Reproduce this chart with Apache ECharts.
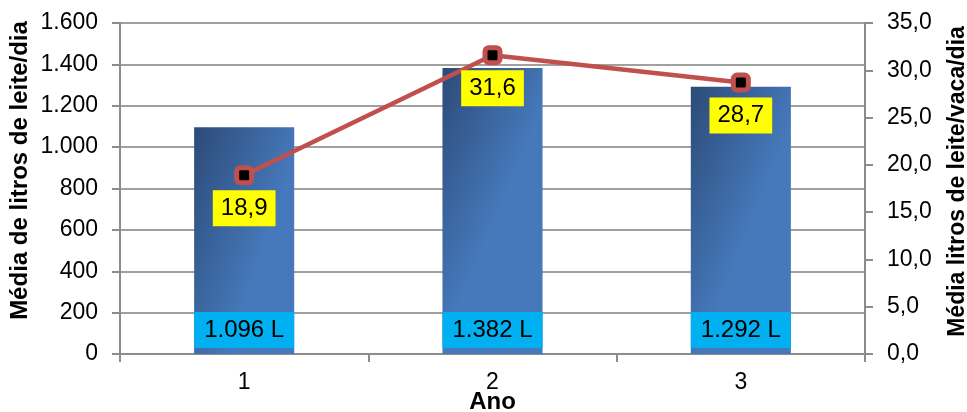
<!DOCTYPE html>
<html>
<head>
<meta charset="utf-8">
<script src="https://cdn.jsdelivr.net/npm/echarts@6/dist/echarts.min.js"></script>
<style>
  html, body { margin: 0; padding: 0; background: #fff; }
  #chart { width: 967px; height: 412px; }
</style>
</head>
<body>
<div id="chart"></div>
<script>
// Data
const anos = ['1', '2', '3'];
const litrosDia = [1096, 1382, 1292];
const litrosVacaDia = [18.9, 31.6, 28.7];

const fmtMil = v => String(v).replace(/\B(?=(\d{3})+(?!\d))/g, '.');
const fmtDec = v => v.toFixed(1).replace('.', ',');

const font = 'Liberation Sans, Arial, sans-serif';
const axisColor = '#8c8c8c';

var myChart = echarts.init(document.getElementById('chart'));
var option = {
    animation: false,
    textStyle: { fontFamily: font },
    grid: {
        left: 120, right: 102, top: 23, bottom: 58,
        containLabel: false,
        outerBoundsMode: 'none'
    },
    xAxis: {
        type: 'category',
        data: anos,
        name: 'Ano',
        nameLocation: 'middle',
        nameGap: 36,
        nameMoveOverlap: false,
        nameTextStyle: { fontSize: 24, fontWeight: 'bold', color: '#000' },
        axisLine: { lineStyle: { color: axisColor, width: 2 } },
        axisTick: { show: true, length: 8, lineStyle: { color: axisColor, width: 2 } },
        axisLabel: { fontSize: 23, color: '#000', margin: 17 }
    },
    yAxis: [
        {
            type: 'value',
            min: 0, max: 1600, interval: 200,
            name: 'Média de litros de leite/dia',
            nameLocation: 'middle',
            nameGap: 88,
            nameMoveOverlap: false,
            // shifted a bit above the plot centre, as in the original
            nameTextStyle: { fontSize: 24, fontWeight: 'bold', color: '#000', padding: [0, 0, 0, 36] },
            axisLine: { show: true, lineStyle: { color: axisColor, width: 2 } },
            axisTick: { show: true, length: 8, lineStyle: { color: axisColor, width: 2 } },
            axisLabel: { fontSize: 23, color: '#000', margin: 22, formatter: v => fmtMil(v) },
            splitLine: { lineStyle: { color: '#a0a0a0', width: 2 } }
        },
        {
            type: 'value',
            min: 0, max: 35, interval: 5,
            name: 'Média litros de leite/vaca/dia',
            nameLocation: 'middle',
            nameGap: 81,
            nameRotate: 90,
            nameMoveOverlap: false,
            nameTextStyle: { fontSize: 23, fontWeight: 'bold', color: '#000', padding: [0, 0, 0, 14] },
            axisLine: { show: true, lineStyle: { color: axisColor, width: 2 } },
            axisTick: { show: true, length: 8, lineStyle: { color: axisColor, width: 2 } },
            axisLabel: { fontSize: 23, color: '#000', margin: 22, formatter: v => fmtDec(v) },
            splitLine: { show: false }
        }
    ],
    series: [
        {
            type: 'bar',
            data: litrosDia,
            barWidth: '40.3%',
            itemStyle: {
                color: new echarts.graphic.LinearGradient(0, 0, 1, 0.15, [
                    { offset: 0, color: '#2c4b78' },
                    { offset: 1, color: '#4679bb' }
                ])
            },
            label: {
                show: true,
                position: 'insideBottom',
                distance: 6,
                formatter: p => fmtMil(p.value) + ' L',
                fontSize: 24,
                lineHeight: 24,
                color: '#000',
                backgroundColor: '#00b0f0',
                width: 88,
                align: 'center',
                padding: [6, 6, 6, 6]
            }
        },
        {
            type: 'line',
            yAxisIndex: 1,
            data: litrosVacaDia,
            symbol: 'roundRect',
            symbolSize: 15,
            lineStyle: { color: '#c0504d', width: 4.5 },
            itemStyle: { color: '#000', borderColor: '#c0504d', borderWidth: 5 },
            label: {
                show: true,
                position: 'bottom',
                distance: 5,
                formatter: p => fmtDec(p.value),
                fontSize: 24,
                lineHeight: 24,
                color: '#000',
                backgroundColor: '#ffff00',
                padding: [6, 8, 6, 8]
            },
            z: 5
        }
    ]
};
myChart.setOption(option);
</script>
</body>
</html>
